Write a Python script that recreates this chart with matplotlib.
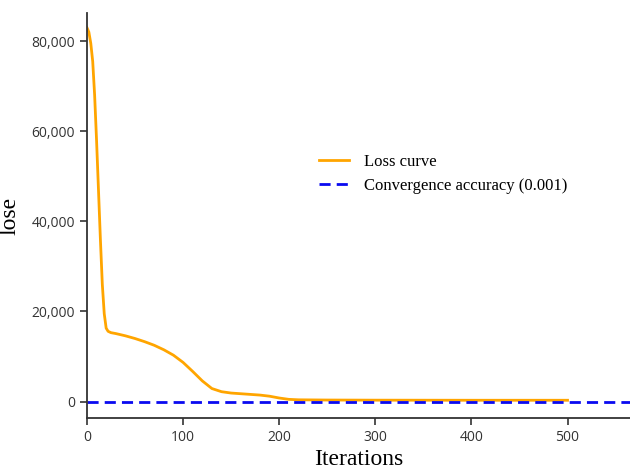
import matplotlib
matplotlib.use('Agg')
import matplotlib.pyplot as plt
from matplotlib.ticker import FuncFormatter

# Loss values
iterations = [0, 2, 4, 6, 8, 10, 12, 14, 16, 18, 20, 22, 25, 30, 40, 50, 60, 70,
              80, 90, 100, 110, 120, 130, 140, 150, 160, 170, 180, 190, 200,
              210, 220, 250, 300, 400, 500]
loss = [83000, 82000, 79500, 75500, 68000, 58000, 47000, 36000, 26000, 19500,
        16300, 15600, 15300, 15100, 14600, 14000, 13300, 12500, 11500, 10300,
        8700, 6700, 4600, 2900, 2200, 1900, 1750, 1600, 1450, 1200, 800,
        500, 400, 350, 320, 300, 300]
conv_level = 0.001

x_ticks = [0, 100, 200, 300, 400, 500]
y_ticks = [0, 20000, 40000, 60000, 80000]

fig = plt.figure(figsize=(6.3, 4.7), dpi=100)
ax = fig.add_axes([0.138, 0.111, 0.862, 0.861])

ax.plot(iterations, loss, color='#FFA500', lw=2, label='Loss curve')
ax.axhline(conv_level, color='#0A0AF0', lw=2, ls='--', dashes=(4, 2.2),
           label='Convergence accuracy (0.001)')

ax.set_xlim(0, 565)
ax.set_ylim(-3600, 86200)
ax.set_xticks(x_ticks)
ax.set_yticks(y_ticks)
ax.yaxis.set_major_formatter(FuncFormatter(lambda v, p: f'{int(v):,}'))

for s in ['top', 'right']:
    ax.spines[s].set_visible(False)
for s in ['left', 'bottom']:
    ax.spines[s].set_color('#333333')
    ax.spines[s].set_linewidth(1.3)
ax.tick_params(direction='out', length=5, width=1.2, color='#333333',
               labelsize=10, labelcolor='#333333')
for lbl in ax.get_xticklabels() + ax.get_yticklabels():
    lbl.set_family('Open Sans')

serif = 'Liberation Serif'
ax.set_xlabel('Iterations', fontsize=17, family=serif, labelpad=3)
ax.set_ylabel('lose', fontsize=17, family=serif)
ax.yaxis.set_label_coords(-0.122, 0.5)

ax.legend(loc='upper left', bbox_to_anchor=(0.40, 0.69), frameon=False,
          prop={'family': serif, 'size': 12}, handlelength=1.8,
          handletextpad=0.9, labelspacing=0.5)

fig.savefig('out.png', dpi=100)
